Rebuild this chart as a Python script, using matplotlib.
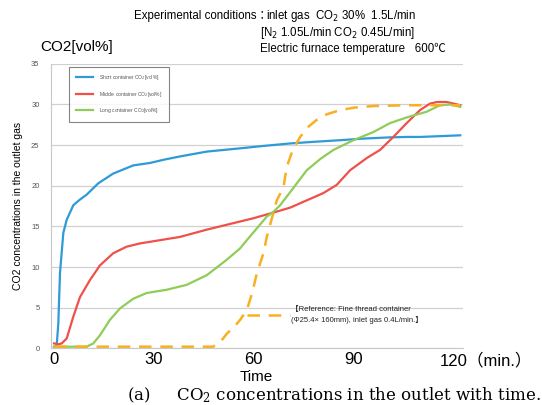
import matplotlib.pyplot as plt

# time in minutes, CO2 in vol%
t_short = [0, 0.8, 1.3, 1.8, 2.8, 3.8, 5.8, 7.8, 9.8, 13.3, 17.8, 23.8, 28.8, 33, 37.8, 45.9, 55.9,
           63, 70.9, 78, 85.9, 93, 100.9, 106, 110, 116, 122]
co2_short = [0.2, 0.3, 3.1, 9.3, 14.2, 15.8, 17.6, 18.3, 18.9, 20.3, 21.5, 22.5, 22.8, 23.2, 23.6,
             24.2, 24.6, 24.9, 25.2, 25.4, 25.6, 25.8, 25.95, 26.0, 26.0, 26.1, 26.2]

t_middle = [0, 1.5, 2.3, 3.8, 5.8, 7.8, 10.8, 13.8, 17.8, 21.8, 25.8, 31.8, 37.8, 45.9, 51.9, 55.9,
            59.9, 65.9, 70.9, 75.9, 80.9, 84.9, 88.9, 93.9, 97.9, 101.9, 105.9, 109.9, 112.9, 115,
            117.9, 120, 122]
co2_middle = [0.6, 0.5, 0.6, 1.2, 3.9, 6.3, 8.4, 10.2, 11.7, 12.5, 12.9, 13.3, 13.7, 14.6, 15.2,
              15.6, 16.0, 16.7, 17.3, 18.2, 19.1, 20.1, 21.9, 23.4, 24.4, 26.0, 27.7, 29.3, 30.1,
              30.3, 30.3, 30.1, 29.9]

t_long = [0, 5, 9.8, 11.8, 13.8, 16.8, 19.8, 23.8, 27.8, 33.8, 39.8, 45.9, 51.9, 55.9, 57.9, 61,
          63.9, 65.9, 67.9, 70.9, 75.9, 80, 83.9, 89.9, 95.9, 100.9, 105.9, 111.9, 115.9, 119, 122]
co2_long = [0.2, 0.2, 0.2, 0.6, 1.6, 3.5, 4.9, 6.1, 6.8, 7.2, 7.8, 9.0, 10.9, 12.3, 13.3, 14.8, 16.2,
            16.8, 17.6, 19.2, 21.9, 23.3, 24.4, 25.6, 26.6, 27.7, 28.4, 29.1, 29.9, 30.0, 29.7]

t_ref = [0, 10, 20, 30, 40, 47.8, 50, 51.9, 54, 55.9, 57.9, 59.5, 60.9, 62.9, 63.9, 66.9, 68.9, 69.9,
         71.5, 73.9, 76.5, 78.9, 82, 85.9, 90, 95.9, 105.9, 114, 122]
co2_ref = [0.2, 0.2, 0.2, 0.2, 0.2, 0.2, 0.8, 1.8, 2.6, 3.5, 4.7, 6.8, 9.2, 11.7, 13.7, 18.2, 19.8,
           22.3, 24.2, 26.0, 27.3, 28.1, 28.8, 29.3, 29.6, 29.8, 29.9, 29.9, 29.9]

xticks = [0, 30, 60, 90, 120]
xtick_labels = ['0', '30', '60', '90', '']
yticks = [0, 5, 10, 15, 20, 25, 30, 35]

plt.rcParams['font.family'] = ['Liberation Sans', 'Noto Sans CJK JP', 'DejaVu Sans']

fig = plt.figure(figsize=(5.42, 4.05), dpi=100)
ax = fig.add_axes([0.0935, 0.140, 0.760, 0.7025])

ax.plot(t_short, co2_short, color='#2e9ad8', lw=1.6, label='Short container CO$_2$[vol%]')
ax.plot(t_middle, co2_middle, color='#f0504a', lw=1.6, label='Middle container CO$_2$[vol%]')
ax.plot(t_long, co2_long, color='#8fcc58', lw=1.6, label='Long container CO$_2$[vol%]')
ax.plot(t_ref, co2_ref, color='#f7b021', lw=1.8, ls=(0, (5, 3.5)))

# leader from the reference curve to its note
ax.plot([57.9, 70.9], [4.1, 4.1], color='#f7b021', lw=1.8, ls=(0, (5, 3.5)))
ax.text(71.2, 4.1, '【Reference: Fine thread container\n(Φ25.4× 160mm), inlet gas 0.4L/min.】',
        fontsize=5.5, va='center', ha='left', linespacing=1.5, color='#222222')

ax.set_xlim(-1.0, 122.7)
ax.set_ylim(0, 35)
ax.set_yticks(yticks)
ax.set_xticks(xticks)
ax.set_xticklabels(xtick_labels, fontsize=12)
# last tick label carries the unit
ax.annotate('120（min.）', xy=(120, 0), xycoords=('data', 'axes fraction'),
            xytext=(-10, -3), textcoords='offset points', fontsize=12, ha='left', va='top')
ax.tick_params(axis='y', labelsize=5.5, labelcolor='#555555', length=0, pad=8)
ax.tick_params(axis='x', length=0, pad=3)
ax.grid(axis='y', color='#d0d0d0', lw=0.9)
for side in ['top', 'right']:
    ax.spines[side].set_visible(False)
ax.spines['left'].set_color('#c8c8c8')
ax.spines['bottom'].set_color('#c8c8c8')

ax.set_xlabel('Time', fontsize=11, labelpad=2)
ax.set_ylabel('CO2 concentrations in the outlet gas', fontsize=7.5, labelpad=6)

leg = ax.legend(loc='upper left', bbox_to_anchor=(0.045, 0.99), fontsize=3.6, frameon=True,
                fancybox=False, edgecolor='#666666', handlelength=3.4, labelspacing=1.5,
                borderpad=1.3, handletextpad=1.3, borderaxespad=0, labelcolor='#555555')
leg.get_frame().set_linewidth(0.8)

fig.text(0.075, 0.875, 'CO2[vol%]', fontsize=11)
fig.text(0.248, 0.952, 'Experimental conditions：', fontsize=8.3)
fig.text(0.49, 0.952, 'inlet gas  CO$_2$ 30%  1.5L/min', fontsize=8.3)
fig.text(0.48, 0.912, '[N$_2$ 1.05L/min CO$_2$ 0.45L/min]', fontsize=8.3)
fig.text(0.48, 0.872, 'Electric furnace temperature   600℃', fontsize=8.3)
fig.text(0.235, 0.012, '(a)     CO$_2$ concentrations in the outlet with time.', fontsize=12,
         family=['DejaVu Serif'], math_fontfamily='dejavuserif')

fig.savefig('out.png', dpi=100)
